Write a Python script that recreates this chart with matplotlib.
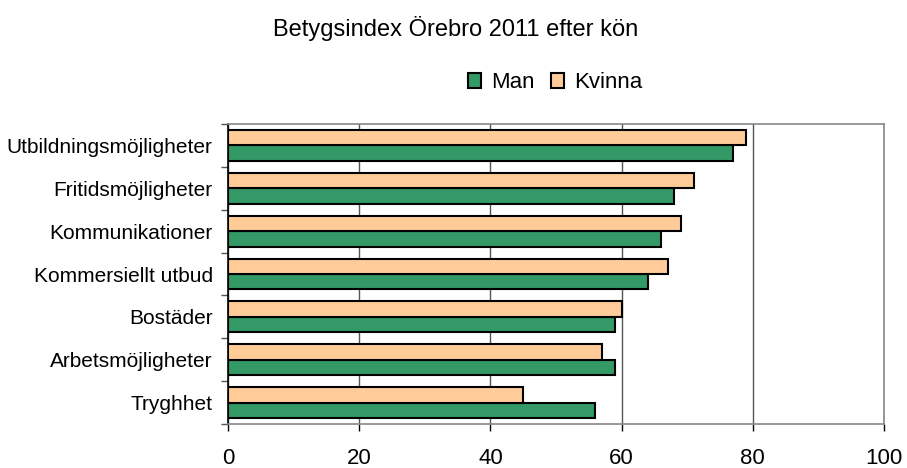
import matplotlib.pyplot as plt
import numpy as np

plt.rcParams['font.family'] = ['Liberation Sans', 'DejaVu Sans']

categories = ['Utbildningsmöjligheter', 'Fritidsmöjligheter', 'Kommunikationer',
              'Kommersiellt utbud', 'Bostäder', 'Arbetsmöjligheter', 'Tryghhet']
man = [77, 68, 66, 64, 59, 59, 56]
kvinna = [79, 71, 69, 67, 60, 57, 45]
xticks = [0, 20, 40, 60, 80, 100]

green = '#339966'
orange = '#FFCC99'

fig = plt.figure(figsize=(9.07, 4.68), dpi=100)
ax = fig.add_axes([0.2514, 0.094, 0.7232, 0.641])

n = len(categories)
pos = np.arange(n)[::-1]  # first category at top
h = 0.36

ax.barh(pos - h / 2, man, height=h, color=green, edgecolor='black', linewidth=1.5,
        label='Man', zorder=3)
ax.barh(pos + h / 2, kvinna, height=h, color=orange, edgecolor='black', linewidth=1.5,
        label='Kvinna', zorder=3)

ax.set_xlim(0, 100)
ax.set_ylim(-0.5, n - 0.5)
ax.set_xticks(xticks)
ax.set_xticklabels([str(t) for t in xticks], fontsize=16)
ax.tick_params(axis='x', direction='out', length=5, width=1, pad=12, colors='black')
ax.xaxis.grid(True, color='#555555', linewidth=1, zorder=0)

# category labels centred, boundary ticks as minor ticks
ax.set_yticks(pos)
ax.set_yticklabels(categories, fontsize=15)
ax.tick_params(axis='y', which='major', length=0, pad=11)
ax.set_yticks(np.arange(n + 1) - 0.5, minor=True)
ax.tick_params(axis='y', which='minor', direction='out', length=5, width=1, color='#555555')

ax.spines['left'].set_color('black')
ax.spines['bottom'].set_color('#888888')
ax.spines['top'].set_color('#888888')
ax.spines['right'].set_color('#888888')
for s in ax.spines.values():
    s.set_linewidth(1.2)

fig.text(0.502, 0.94, 'Betygsindex Örebro 2011 efter kön', ha='center', va='center',
         fontsize=17)

handles, labels = ax.get_legend_handles_labels()
fig.legend(handles, labels, loc='center', bbox_to_anchor=(0.612, 0.823), ncol=2,
           frameon=False, fontsize=16, handlelength=0.6, handleheight=0.6,
           handletextpad=0.45, columnspacing=0.75, borderpad=0)

plt.savefig('out.png', dpi=100)
